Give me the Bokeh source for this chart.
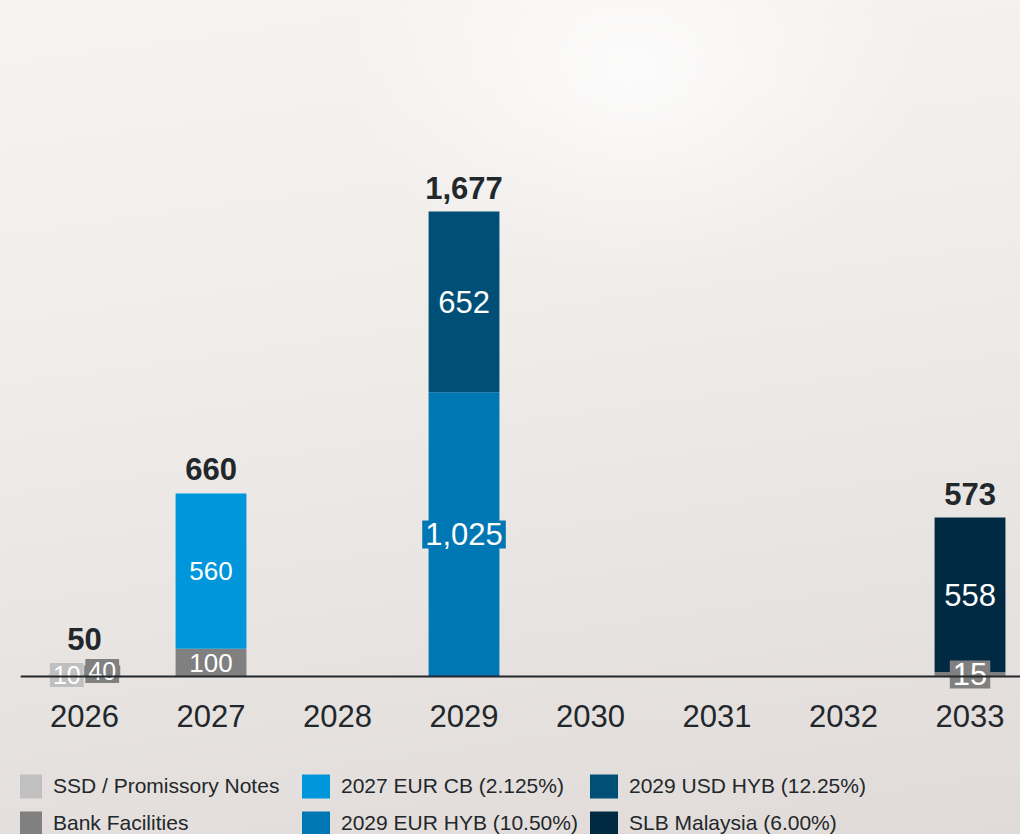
import numpy as np
from bokeh.plotting import figure
from bokeh.layouts import column
from bokeh.models import ColumnDataSource, Range1d, Legend, LegendItem, Span, FixedTicker
from bokeh.core.properties import value
from bokeh.embed import file_html
from bokeh.resources import INLINE

# ---------------- data ----------------
years = ["2026", "2027", "2028", "2029", "2030", "2031", "2032", "2033"]
ssd_notes = [10, 0, 0, 0, 0, 0, 0, 0]
bank_facilities = [40, 100, 0, 0, 0, 0, 0, 15]
eur_cb_2027 = [0, 560, 0, 0, 0, 0, 0, 0]
eur_hyb_2029 = [0, 0, 0, 1025, 0, 0, 0, 0]
usd_hyb_2029 = [0, 0, 0, 652, 0, 0, 0, 0]
slb_malaysia = [0, 0, 0, 0, 0, 0, 0, 558]

series_names = ["SSD / Promissory Notes", "Bank Facilities", "2027 EUR CB (2.125%)",
                "2029 EUR HYB (10.50%)", "2029 USD HYB (12.25%)", "SLB Malaysia (6.00%)"]

# ---------------- style ----------------
colors = ["#c0c0c0", "#808080", "#0096dc", "#0077b5", "#004f77", "#002a42"]
label_px = [25, 26, 31, 31, 31, 31, 31, 31]
legend_order = [0, 2, 4, 1, 3, 5]   # row-major fill of a 2x3 legend grid
FONT = "Liberation Sans"
DARK = "#22272b"
PAGE_BG = ("radial-gradient(ellipse 420px 300px at 62% 8%, rgba(255,255,255,0.75), rgba(255,255,255,0) 70%), "
           "linear-gradient(172deg, #f6f4f2 0%, #f0edeb 35%, #e9e5e2 65%, #e0dbd8 100%)")
bar_w = 0.56
pair_w = 0.285
pair_off = 0.14

n = len(years)
idx = np.arange(n, dtype=float)
values = [np.array(s, dtype=float) for s in
          [ssd_notes, bank_facilities, eur_cb_2027, eur_hyb_2029, usd_hyb_2029, slb_malaysia]]
side = (values[0] > 0) & (values[1] > 0)
totals = np.sum(values, axis=0)

# ---------------- main chart ----------------
p = figure(width=1020, height=760, output_backend="svg", toolbar_location=None,
           x_range=Range1d(-0.506, 7.399), y_range=Range1d(-57.7, 2438),
           min_border_left=20, min_border_right=0, min_border_top=0, min_border_bottom=68)
p.background_fill_color = None
p.border_fill_color = None
p.outline_line_color = None
p.grid.visible = False
p.yaxis.visible = False

xa = p.xaxis[0]
xa.ticker = FixedTicker(ticks=list(range(n)))
xa.major_label_overrides = {i: y for i, y in enumerate(years)}
xa.axis_line_color = None
xa.major_tick_line_color = None
xa.minor_tick_line_color = None
xa.major_tick_out = 0
xa.major_tick_in = 0
xa.major_label_standoff = 12
xa.major_label_text_font = FONT
xa.major_label_text_font_size = "31px"
xa.major_label_text_color = DARK

sources = []
label_rows = {"x": [], "y": [], "t": [], "c": [], "s": []}
base = np.zeros(n)
for k, v in enumerate(values):
    if k in (0, 1):
        sgn = -1 if k == 0 else 1
        x = np.where(side, idx + sgn * pair_off, idx)
        w = np.where(side, pair_w, bar_w)
        b = np.where(side, 0.0, base)
        t = b + v
        base = np.where(side, np.maximum(base, t), t)
    else:
        x = idx.copy()
        w = np.full(n, bar_w)
        b = base.copy()
        t = b + v
        base = t
    m = v > 0
    src = ColumnDataSource(dict(x=x[m], w=w[m], b=b[m], t=t[m]))
    sources.append(src)
    p.vbar(x="x", width="w", bottom="b", top="t", source=src,
           fill_color=colors[k], line_color=None)
    for i in np.where(m)[0]:
        label_rows["x"].append(x[i])
        label_rows["y"].append((b[i] + t[i]) / 2)
        label_rows["t"].append(f"{int(v[i]):,}")
        label_rows["c"].append(colors[k])
        label_rows["s"].append(f"{label_px[i]}px")

p.add_layout(Span(location=0, dimension="width", line_color=DARK, line_width=2))

lsrc = ColumnDataSource(label_rows)
p.text(x="x", y="y", text="t", source=lsrc, text_color="white", text_font=value(FONT),
       text_font_size="s", text_align="center", text_baseline="middle",
       background_fill_color="c", padding=3)

tsrc = ColumnDataSource(dict(x=idx[totals > 0], y=totals[totals > 0],
                             t=[f"{int(v):,}" for v in totals[totals > 0]]))
p.text(x="x", y="y", text="t", source=tsrc, text_color=DARK, text_font=value(FONT),
       text_font_size="31px", text_font_style="bold", text_align="center",
       text_baseline="middle", y_offset=-24)

# ---------------- legend strip (series drawn out of view, only for the key) ----------------
q = figure(width=1020, height=74, output_backend="svg", toolbar_location=None,
           x_range=Range1d(-100, -99), y_range=Range1d(-2, -1),
           min_border_left=0, min_border_right=0, min_border_top=0, min_border_bottom=0)
q.background_fill_color = None
q.border_fill_color = None
q.outline_line_color = None
q.grid.visible = False
q.axis.visible = False
items = []
for k, name in enumerate(series_names):
    r = q.vbar(x="x", width="w", bottom="b", top="t", source=sources[k],
               fill_color=colors[k], line_color=None)
    items.append(LegendItem(label=name, renderers=[r]))
legend = Legend(items=[items[k] for k in legend_order], orientation="horizontal", nrows=2,
                location=(-10, -4), margin=0, padding=0,
                spacing=7, glyph_width=35, glyph_height=30, label_standoff=8,
                label_width=238, label_text_font=FONT, label_text_font_size="21px",
                label_text_color=DARK, background_fill_alpha=0, border_line_color=None)
q.add_layout(legend, "center")

layout = column(p, q, spacing=0, styles={"background": PAGE_BG})
open("out.html", "w").write(file_html(layout, INLINE))
